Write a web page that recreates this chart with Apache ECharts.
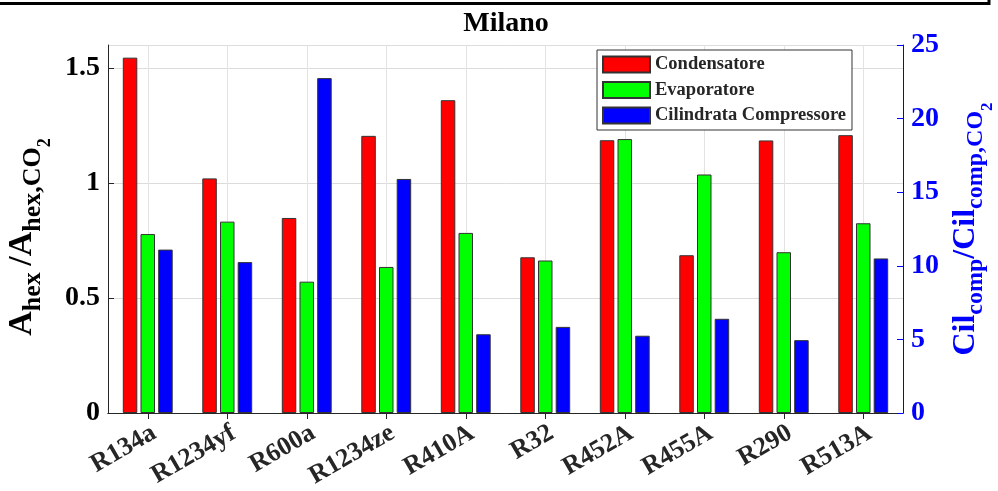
<!DOCTYPE html>
<html>
<head>
<meta charset="utf-8">
<script src="https://cdn.jsdelivr.net/npm/echarts@6/dist/echarts.min.js"></script>
<style>
  html, body { margin: 0; padding: 0; background: #fff; }
  #chart { width: 998px; height: 491px; }
</style>
</head>
<body>
<div id="chart"></div>
<script>
// Refrigerants compared against CO2 (Milano climate)
const categories = ['R134a', 'R1234yf', 'R600a', 'R1234ze', 'R410A', 'R32', 'R452A', 'R455A', 'R290', 'R513A'];
const condensatore = [1.545, 1.020, 0.848, 1.205, 1.360, 0.677, 1.186, 0.686, 1.185, 1.208];
const evaporatore  = [0.778, 0.832, 0.571, 0.635, 0.783, 0.663, 1.191, 1.037, 0.699, 0.825];
const cilindrata   = [11.10, 10.25, 22.75, 15.90, 5.35, 5.85, 5.25, 6.40, 4.95, 10.50];

const seriesNames = ['Condensatore', 'Evaporatore', 'Cilindrata Compressore'];
const leftTicks = { min: 0, max: 1.6, interval: 0.5 };
const rightTicks = { min: 0, max: 25, interval: 5 };

const FONT = "'Liberation Serif', 'Times New Roman', serif";
const DARK = '#262626';
const BLUE = '#0000ff';

// Rich-text styles for axis names with subscripts (m = main, s = subscript, ss = sub-subscript)
function richLabel(color, main, sub) {
  return {
    m:  { fontFamily: FONT, fontWeight: 'bold', fontSize: main, lineHeight: main + 2, verticalAlign: 'top', color: color },
    s:  { fontFamily: FONT, fontWeight: 'bold', fontSize: sub, lineHeight: sub + 2, padding: [Math.round(main * 0.45), 0, 0, 0], verticalAlign: 'top', color: color },
    ss: { fontFamily: FONT, fontWeight: 'bold', fontSize: Math.round(sub * 0.7), lineHeight: Math.round(sub * 0.7) + 1, padding: [Math.round(main * 0.9), 0, 0, 0], verticalAlign: 'top', color: color }
  };
}

const chart = echarts.init(document.getElementById('chart'), null, { renderer: 'canvas' });

const barStyle = (color) => ({ color: color, borderColor: '#333', borderWidth: 1 });

chart.setOption({
  animation: false,
  backgroundColor: '#fff',
  grid: { left: 108, right: 95, top: 45, bottom: 78, containLabel: false, outerBoundsMode: 'none' },
  graphic: [
    { type: 'line', shape: { x1: 0, y1: 3.5, x2: 990, y2: 3.5 }, style: { stroke: '#000', lineWidth: 3 } },
    { type: 'line', shape: { x1: 989, y1: 0, x2: 989, y2: 5 }, style: { stroke: '#000', lineWidth: 3 } },
    { type: 'text', x: 506, y: 24, style: { text: 'Milano', font: 'bold 28px ' + FONT, fill: '#000', textAlign: 'center', textVerticalAlign: 'middle' } }
  ],
  legend: {
    data: seriesNames,
    orient: 'vertical',
    left: 597, top: 50,
    icon: 'rect',
    itemWidth: 47, itemHeight: 16, itemGap: 6.5,
    padding: [5, 6, 5, 5],
    backgroundColor: '#fff',
    borderColor: '#333', borderWidth: 1,
    selectedMode: false,
    textStyle: { fontFamily: FONT, fontWeight: 'bold', fontSize: 18.5, color: DARK }
  },
  xAxis: [
    {
      type: 'category', data: categories, position: 'bottom',
      axisLine: { lineStyle: { color: '#1a1aff', width: 1 } },
      axisTick: { show: false },
      splitLine: { show: true, alignWithLabel: true, lineStyle: { color: '#e3e3e3', width: 1 } },
      axisLabel: { rotate: 30, margin: 7, verticalAlign: 'top', align: 'right', fontFamily: FONT, fontWeight: 'bold', fontSize: 26, color: DARK, interval: 0 }
    },
    {
      type: 'category', data: categories, position: 'top',
      axisLine: { lineStyle: { color: DARK, width: 1 } },
      axisTick: { show: true, inside: true, alignWithLabel: true, length: 6, lineStyle: { color: DARK } },
      axisLabel: { show: false },
      splitLine: { show: false }
    }
  ],
  yAxis: [
    {
      type: 'value', position: 'left',
      min: leftTicks.min, max: leftTicks.max, interval: leftTicks.interval,
      axisLine: { show: true, lineStyle: { color: DARK, width: 1 } },
      axisTick: { show: true, inside: true, length: 6, lineStyle: { color: DARK } },
      splitLine: { show: true, lineStyle: { color: '#dcdcdc', width: 1 } },
      axisLabel: { showMaxLabel: false, margin: 8, fontFamily: FONT, fontWeight: 'bold', fontSize: 28, color: '#000' },
      name: '{m|A}{s|hex }{m|/A}{s|hex,CO}{ss|2}',
      nameLocation: 'middle', nameRotate: 90, nameGap: 60,
      nameTextStyle: { rich: richLabel('#000', 34, 26), padding: [0, 16, 0, 0] }
    },
    {
      type: 'value', position: 'right',
      min: rightTicks.min, max: rightTicks.max, interval: rightTicks.interval,
      axisLine: { show: true, lineStyle: { color: BLUE, width: 1 } },
      axisTick: { show: true, inside: true, length: 6, lineStyle: { color: BLUE } },
      splitLine: { show: false },
      axisLabel: { margin: 8, fontFamily: FONT, fontWeight: 'bold', fontSize: 28, color: BLUE },
      name: '{m|Cil}{s|comp}{m|/Cil}{s|comp,CO}{ss|2}',
      nameLocation: 'middle', nameRotate: 90, nameGap: 47,
      nameTextStyle: { rich: richLabel(BLUE, 32, 24) }
    }
  ],
  series: [
    { name: seriesNames[0], type: 'bar', xAxisIndex: 0, yAxisIndex: 0, data: condensatore, barWidth: 14.5, barGap: '22%', itemStyle: barStyle('#ff0000') },
    { name: seriesNames[1], type: 'bar', xAxisIndex: 0, yAxisIndex: 0, data: evaporatore, barWidth: 14.5, barGap: '22%', itemStyle: barStyle('#00ff00') },
    { name: seriesNames[2], type: 'bar', xAxisIndex: 0, yAxisIndex: 1, data: cilindrata, barWidth: 14.5, barGap: '22%', itemStyle: barStyle('#0000ff') }
  ]
});
</script>
</body>
</html>
